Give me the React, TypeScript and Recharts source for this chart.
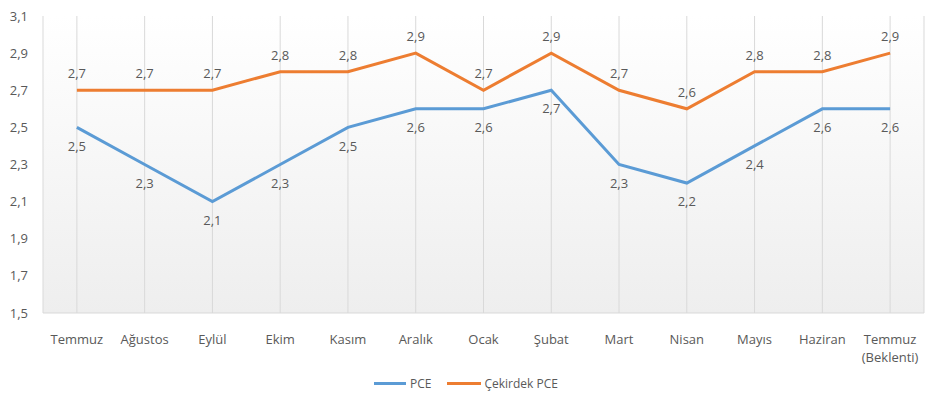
import React from 'react';
import { LineChart, Line, XAxis, YAxis, CartesianGrid, Legend, LabelList } from 'recharts';

const categories = ['Temmuz', 'Ağustos', 'Eylül', 'Ekim', 'Kasım', 'Aralık', 'Ocak', 'Şubat', 'Mart', 'Nisan', 'Mayıs', 'Haziran', 'Temmuz\n(Beklenti)'];
const pce = [2.5, 2.3, 2.1, 2.3, 2.5, 2.6, 2.6, 2.7, 2.3, 2.2, 2.4, 2.6, 2.6];
const core = [2.7, 2.7, 2.7, 2.8, 2.8, 2.9, 2.7, 2.9, 2.7, 2.6, 2.8, 2.8, 2.9];
const yTicks = [1.5, 1.7, 1.9, 2.1, 2.3, 2.5, 2.7, 2.9, 3.1];

const data = categories.map((c, i) => ({ name: c, pce: pce[i], core: core[i] }));

const FONT = '"Open Sans", sans-serif';
const TEXT = '#595959';
const fmt = (v: number) => v.toFixed(1).replace('.', ',');

const XTick = (props: any) => {
  const { x, y, payload } = props;
  const lines = String(payload.value).split('\n');
  return (
    <text x={x} y={y} textAnchor="middle" fill={TEXT} fontSize={13} fontFamily={FONT}>
      {lines.map((l, i) => (
        <tspan key={i} x={x} dy={i === 0 ? 23 : 18}>{l}</tspan>
      ))}
    </text>
  );
};

const LegendContent = () => (
  <div style={{ display: 'flex', justifyContent: 'center', alignItems: 'center', fontFamily: FONT, fontSize: 12, color: TEXT, paddingLeft: 8, height: 18 }}>
    <span style={{ display: 'inline-block', width: 32, height: 3, background: '#5B9BD5', marginRight: 4 }} />
    <span style={{ marginRight: 16 }}>PCE</span>
    <span style={{ display: 'inline-block', width: 34, height: 3, background: '#ED7D31', marginRight: 3 }} />
    <span>Çekirdek PCE</span>
  </div>
);

export default function App() {
  return (
    <div style={{ position: 'absolute', left: 0, top: 0, width: 936, height: 393, background: '#fff' }}>
      <LineChart width={936} height={393} data={data} margin={{ top: 16, right: 12, bottom: 0, left: 0 }}>
        <defs>
          <linearGradient id="bg" x1="0" y1="0" x2="0" y2="1">
            <stop offset="0%" stopColor="#ffffff" />
            <stop offset="100%" stopColor="#eeeeee" />
          </linearGradient>
        </defs>
        <CartesianGrid horizontal={false} stroke="#d9d9d9" fill="url(#bg)" />
        <XAxis dataKey="name" scale="band" interval={0} height={50} tick={<XTick />} tickLine={false} axisLine={{ stroke: '#d9d9d9' }} />
        <YAxis domain={[1.5, 3.1]} ticks={yTicks} width={43} axisLine={false} tickLine={false} tickMargin={9}
          tickFormatter={fmt} tick={{ fill: TEXT, fontSize: 13, fontFamily: FONT }} interval={0} />
        <Legend verticalAlign="bottom" height={30} content={<LegendContent />} wrapperStyle={{ top: 374, bottom: 'auto' }} />
        <Line dataKey="pce" stroke="#5B9BD5" strokeWidth={3} dot={false} isAnimationActive={false}>
          <LabelList dataKey="pce" position="bottom" offset={14} formatter={(v: any) => fmt(Number(v))} fill={TEXT} fontSize={13} fontFamily={FONT} />
        </Line>
        <Line dataKey="core" stroke="#ED7D31" strokeWidth={3} dot={false} isAnimationActive={false}>
          <LabelList dataKey="core" position="top" offset={12} formatter={(v: any) => fmt(Number(v))} fill={TEXT} fontSize={13} fontFamily={FONT} />
        </Line>
      </LineChart>
    </div>
  );
}
